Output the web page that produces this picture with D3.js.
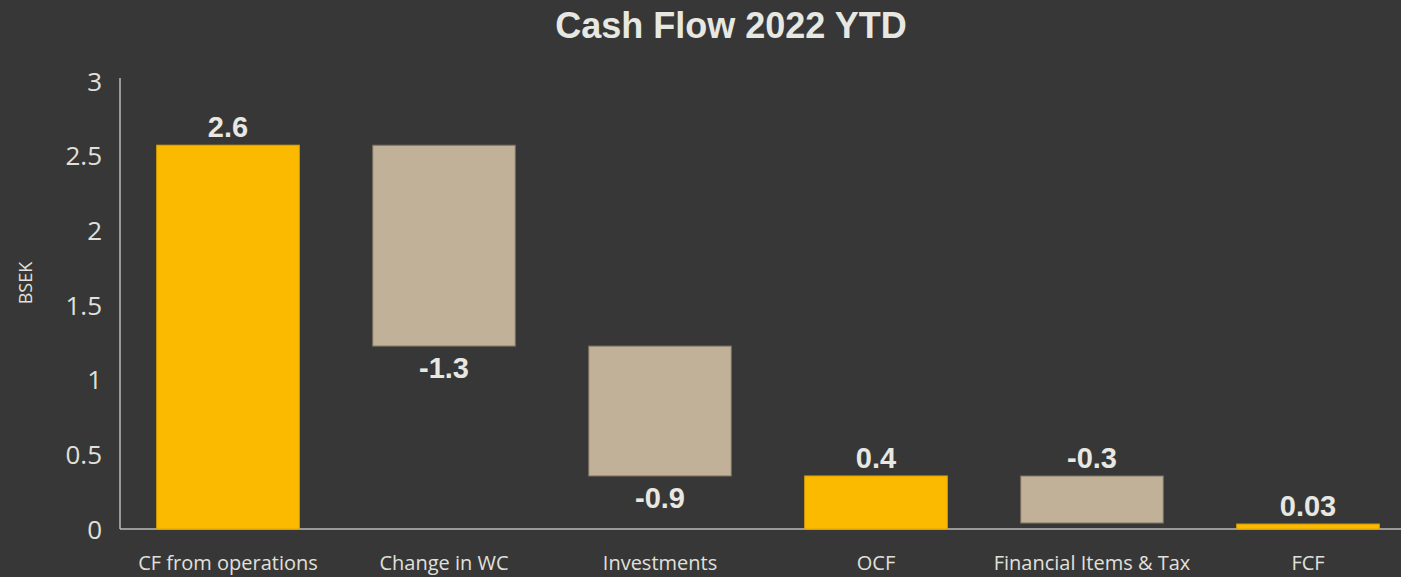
<!DOCTYPE html>
<html>
<head>
<meta charset="utf-8">
<script src="https://cdn.jsdelivr.net/npm/d3@7"></script>
<style>
  body { margin: 0; background: #373737; }
  svg { display: block; }
  .ctitle { font-family: "Liberation Sans", Arial, sans-serif; font-weight: bold; font-size: 36px; fill: #e8e8e2; }
  .tick text { font-family: "Open Sans", sans-serif; fill: #e0e0dc; }
  .vlabel { font-family: "Liberation Sans", Arial, sans-serif; font-weight: bold; font-size: 29px; fill: #e8e8e2; }
  .ylab { font-family: "Open Sans", sans-serif; font-size: 18px; fill: #e0e0dc; }
</style>
</head>
<body>
<svg id="chart"></svg>
<script>
const categories = ["CF from operations", "Change in WC", "Investments", "OCF", "Financial Items & Tax", "FCF"];
const values = [2.57, -1.345, -0.87, 0.355, -0.315, 0.033];
const kinds = ["total", "delta", "delta", "total", "delta", "total"];
const valueLabels = ["2.6", "-1.3", "-0.9", "0.4", "-0.3", "0.03"];
const labelSide = ["top", "bottom", "bottom", "top", "top", "top"];
const yTicks = [0, 0.5, 1, 1.5, 2, 2.5, 3];

const w = 1401;
const h = 577;

const svg = d3.select("#chart")
              .attr("width", w)
              .attr("height", h);

// waterfall: running total for start/end of each bar
let run = 0;
const bars = categories.map((c, i) => {
  let y0, y1;
  if (kinds[i] == "total") {
    y0 = 0; y1 = values[i]; run = values[i];
  } else {
    y0 = run; y1 = run + values[i]; run = y1;
  }
  return {cat: c, kind: kinds[i], lo: Math.min(y0, y1), hi: Math.max(y0, y1), label: valueLabels[i], side: labelSide[i]};
});

const x = d3.scaleBand()
            .domain(categories)
            .range([120, 1416])
            .paddingInner(0.34)
            .paddingOuter(0.17);

const y = d3.scaleLinear()
            .domain([0, 3])
            .range([529, 81]);

const colors = {total: "#fbba00", delta: "#c1b198"};
const strokes = {total: "#e0a600", delta: "#7d7262"};

svg.append("text")
   .attr("x", 731)
   .attr("y", 38)
   .attr("text-anchor", "middle")
   .attr("class", "ctitle")
   .text("Cash Flow 2022 YTD");

// y axis
const yAxis = svg.append("g")
   .attr("transform", "translate(120,0)")
   .call(d3.axisLeft(y).tickValues(yTicks).tickSize(0).tickPadding(18).tickFormat(d3.format("")));
yAxis.select(".domain").attr("stroke", "#bdbdbd").attr("stroke-width", 1.5).attr("d", "M0," + (y(3) - 3) + "V" + y(0));
yAxis.selectAll(".tick text").style("font-size", "26px").attr("dy", "0.35em");

// x axis
const xAxis = svg.append("g")
   .attr("transform", "translate(0," + y(0) + ")")
   .call(d3.axisBottom(x).tickSize(0).tickPadding(27));
xAxis.select(".domain").attr("stroke", "#bdbdbd").attr("stroke-width", 1.5).attr("d", "M120,0H1401");
xAxis.selectAll(".tick text").style("font-size", "20px");

svg.append("text")
   .attr("class", "ylab")
   .attr("text-anchor", "middle")
   .attr("transform", "translate(32,283) rotate(-90)")
   .text("BSEK");

svg.append("g")
   .selectAll("rect")
   .data(bars)
   .enter()
   .append("rect")
   .attr("x", d => x(d.cat))
   .attr("width", x.bandwidth())
   .attr("y", d => y(d.hi))
   .attr("height", d => y(d.lo) - y(d.hi))
   .attr("fill", d => colors[d.kind])
   .attr("stroke", d => strokes[d.kind])
   .attr("stroke-width", 1);

svg.append("g")
   .selectAll("text")
   .data(bars)
   .enter()
   .append("text")
   .attr("class", "vlabel")
   .attr("text-anchor", "middle")
   .attr("x", d => x(d.cat) + x.bandwidth() / 2)
   .attr("y", d => d.side == "top" ? y(d.hi) - 8 : y(d.lo) + 32)
   .text(d => d.label);
</script>
</body>
</html>
